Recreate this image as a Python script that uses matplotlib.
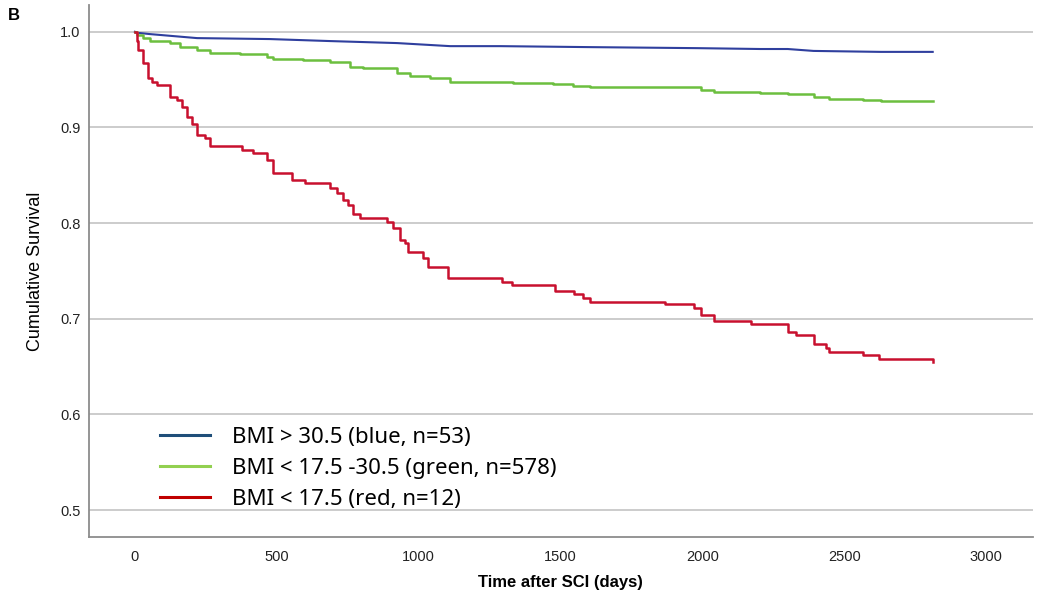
import matplotlib.pyplot as plt
import matplotlib as mpl
from matplotlib.lines import Line2D
import numpy as np

# survival points (days, cumulative survival)
blue_t = [0, 7, 53, 219, 476, 688, 924, 1111, 1288, 1595, 1983, 2205, 2301, 2392, 2629, 2812]
blue_s = [1.0, 0.999, 0.9976, 0.9934, 0.9924, 0.9903, 0.9882, 0.985, 0.985, 0.984, 0.9829, 0.982, 0.982, 0.980, 0.979, 0.979]

green_t = [0, 7, 28, 53, 123, 159, 219, 265, 370, 466, 487, 593, 688, 759, 805, 924, 970,
           1041, 1111, 1334, 1475, 1545, 1605, 1994, 2040, 2205, 2301, 2392, 2445, 2565, 2629, 2812]
green_s = [1.0, 0.997, 0.9934, 0.9903, 0.988, 0.984, 0.981, 0.978, 0.9767, 0.974, 0.972, 0.970, 0.968, 0.963, 0.962, 0.957, 0.954,
           0.952, 0.947, 0.946, 0.945, 0.943, 0.942, 0.939, 0.937, 0.936, 0.935, 0.932, 0.930, 0.9286, 0.9275, 0.9275]

red_t = [0, 6, 11, 28, 46, 60, 78, 123, 148, 166, 183, 201, 219, 247, 265, 378, 416, 466, 487, 554, 600,
         688, 713, 734, 752, 769, 794, 889, 910, 935, 953, 963, 1016, 1034, 1104, 1295, 1330, 1482, 1546,
         1581, 1605, 1870, 1969, 1994, 2040, 2170, 2301, 2329, 2392, 2435, 2445, 2565, 2622, 2812]
red_s = [1.0, 0.99, 0.981, 0.967, 0.952, 0.947, 0.944, 0.932, 0.929, 0.921, 0.911, 0.904, 0.892, 0.889, 0.881, 0.876, 0.873, 0.866, 0.852, 0.845, 0.842,
         0.837, 0.831, 0.824, 0.819, 0.810, 0.805, 0.801, 0.795, 0.782, 0.779, 0.770, 0.764, 0.754, 0.743, 0.738, 0.735, 0.729, 0.726,
         0.722, 0.718, 0.715, 0.711, 0.704, 0.698, 0.695, 0.686, 0.683, 0.674, 0.669, 0.665, 0.662, 0.658, 0.655]

labels = ["BMI > 30.5 (blue, n=53)", "BMI < 17.5 -30.5 (green, n=578)", "BMI < 17.5 (red, n=12)"]

plt.rcParams['font.family'] = ['Liberation Sans', 'DejaVu Sans']

fig = plt.figure(figsize=(10.37, 6.04), dpi=100)
ax = fig.add_axes([0.0858, 0.1109, 0.9102, 0.8808])

# blue has many tiny steps, looks like a smooth line
ax.plot(blue_t, blue_s, color='#2f3f9e', lw=1.5, zorder=3)
ax.step(green_t, green_s, where='post', color='#6cbf3f', lw=1.8, zorder=3)
ax.step(red_t, red_s, where='post', color='#c8102e', lw=1.8, zorder=3)

ax.set_xlim(-162, 3165)
ax.set_ylim(0.4718, 1.028)
ax.set_xticks([0, 500, 1000, 1500, 2000, 2500, 3000])
ax.set_yticks([0.5, 0.6, 0.7, 0.8, 0.9, 1.0])
ax.set_yticklabels(["0.5", "0.6", "0.7", "0.8", "0.9", "1.0"])
ax.tick_params(length=0, labelsize=10.5, colors='#222222')
ax.tick_params(axis='x', pad=9)
ax.tick_params(axis='y', pad=6)
ax.grid(axis='y', color='#c8c8c8', lw=1.3)
ax.set_axisbelow(True)
for s in ['top', 'right']:
    ax.spines[s].set_visible(False)
for s in ['left', 'bottom']:
    ax.spines[s].set_color('#8c8c8c')
    ax.spines[s].set_linewidth(1.3)

ax.set_xlabel("Time after SCI (days)", fontsize=12, fontweight='bold', labelpad=8)
ax.set_ylabel("Cumulative Survival", fontsize=13, labelpad=12)

fig.text(0.008, 0.975, "B", fontsize=12, fontweight='bold', va='center')

handles = [Line2D([], [], color='#1f4e79', lw=2.2),
           Line2D([], [], color='#92d050', lw=2.2),
           Line2D([], [], color='#c00000', lw=2.2)]
leg = ax.legend(handles, labels, loc='upper left', bbox_to_anchor=(160 / 1037, 1 - 427 / 604),
                bbox_transform=fig.transFigure, frameon=False, borderpad=0, borderaxespad=0,
                handlelength=2.25, handletextpad=1.0, labelspacing=0.45,
                prop={'family': 'Noto Sans', 'size': 16})

fig.savefig("out.png", dpi=100)
